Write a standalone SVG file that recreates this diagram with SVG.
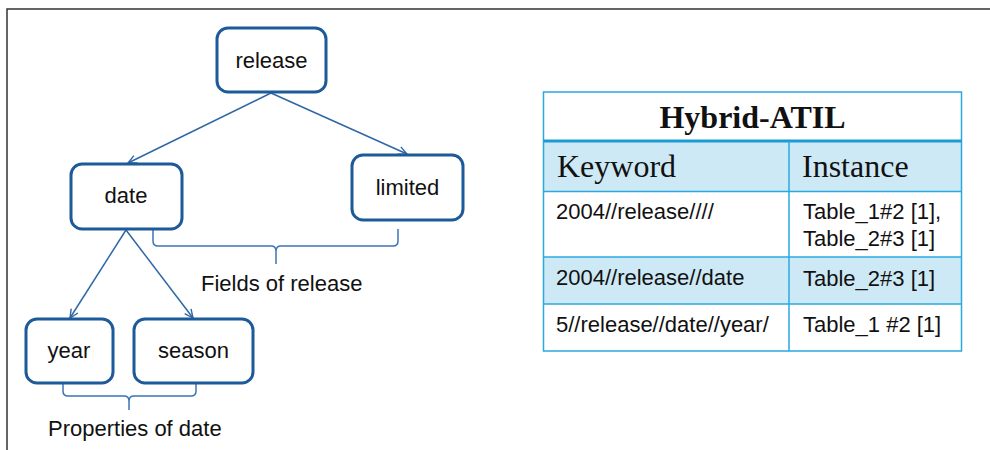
<svg xmlns="http://www.w3.org/2000/svg" width="990" height="450" viewBox="0 0 990 450">
  <style>
    .node rect { fill: #ffffff; stroke: #1d5b98; stroke-width: 3; }
    .node text { font-family: "Liberation Sans", Arial, sans-serif; font-size: 22px; fill: #111111; text-anchor: middle; }
    .edge { fill: none; stroke: #2e67a6; stroke-width: 1.5; marker-end: url(#arrow); }
    .brace { fill: none; stroke: #3a75b5; stroke-width: 1.5; }
    .label { font-family: "Liberation Sans", Arial, sans-serif; font-size: 22px; fill: #111111; }
    .cell { font-family: "Liberation Sans", Arial, sans-serif; font-size: 22px; fill: #111111; }
    .head { font-family: "Palatino Linotype", "Book Antiqua", "Liberation Serif", serif; font-size: 32px; fill: #111111; }
    .grid { stroke: #2aa8e0; stroke-width: 1.5; fill: none; }
  </style>
  <defs>
    <marker id="arrow" viewBox="0 0 10 10" refX="9.5" refY="5" markerWidth="10" markerHeight="10" markerUnits="userSpaceOnUse" orient="auto">
      <path d="M1,1 L9.5,5 L1,9" fill="none" stroke="#2e67a6" stroke-width="1.4"/>
    </marker>
  </defs>

  <rect width="990" height="450" fill="#ffffff"/>

  <!-- frame -->
  <path d="M7,450 L7,9 L990,9" fill="none" stroke="#333333" stroke-width="1.5"/>

  <!-- connectors -->
  <g id="connectors">
    <path class="edge" d="M271,93 L128,163"/>
    <path class="edge" d="M271,93 L407,154"/>
    <path class="edge" d="M126,230 L70,318"/>
    <path class="edge" d="M126,230 L193,318"/>
    <!-- braces -->
    <path class="brace" d="M153,229 L153,241 Q153,246 158,246 L271,246 Q276,246 276,251 L276,264 M276,251 Q276,246 281,246 L393,246 Q398,246 398,241 L398,229"/>
    <path class="brace" d="M63,383 L63,391 Q63,396 68,396 L124,396 Q129,396 129,401 L129,410 M129,401 Q129,396 134,396 L191,396 Q196,396 196,391 L196,383"/>
  </g>

  <!-- nodes -->
  <g id="node-release" class="node">
    <rect x="217" y="28" width="109" height="64" rx="11"/>
    <text x="271.5" y="68">release</text>
  </g>
  <g id="node-date" class="node">
    <rect x="71" y="164" width="111" height="65" rx="11"/>
    <text x="126" y="203">date</text>
  </g>
  <g id="node-limited" class="node">
    <rect x="352" y="155" width="111" height="65" rx="11"/>
    <text x="407.5" y="195">limited</text>
  </g>
  <g id="node-year" class="node">
    <rect x="26" y="319" width="87" height="64" rx="11"/>
    <text x="69" y="358">year</text>
  </g>
  <g id="node-season" class="node">
    <rect x="134" y="319" width="119" height="64" rx="11"/>
    <text x="193.5" y="358">season</text>
  </g>

  <!-- brace labels -->
  <text class="label" x="201" y="291">Fields of release</text>
  <text class="label" x="48" y="436">Properties of date</text>

  <!-- Hybrid-ATIL table -->
  <g id="table">
    <rect x="543.5" y="92" width="418" height="259" fill="#ffffff"/>
    <rect x="543.5" y="141" width="418" height="50.5" fill="#cde9f5"/>
    <rect x="543.5" y="257" width="418" height="47" fill="#cde9f5"/>
    <rect class="grid" x="543.5" y="92" width="418" height="259" stroke-width="2"/>
    <line x1="543.5" y1="141" x2="961.5" y2="141" stroke="#1a9ad6" stroke-width="3"/>
    <line class="grid" x1="543.5" y1="191.5" x2="961.5" y2="191.5"/>
    <line class="grid" x1="543.5" y1="257" x2="961.5" y2="257"/>
    <line class="grid" x1="543.5" y1="304" x2="961.5" y2="304"/>
    <line class="grid" x1="789" y1="141" x2="789" y2="351"/>

    <text class="head" x="752.5" y="128" text-anchor="middle" font-weight="bold">Hybrid-ATIL</text>
    <text class="head" x="557" y="177">Keyword</text>
    <text class="head" x="802" y="177">Instance</text>

    <text class="cell" x="556" y="219">2004//release////</text>
    <text class="cell" x="803" y="219">Table_1#2 [1],</text>
    <text class="cell" x="803" y="246">Table_2#3 [1]</text>
    <text class="cell" x="556" y="285">2004//release//date</text>
    <text class="cell" x="803" y="286">Table_2#3 [1]</text>
    <text class="cell" x="556" y="332">5//release//date//year/</text>
    <text class="cell" x="803" y="332">Table_1 #2 [1]</text>
  </g>
</svg>
